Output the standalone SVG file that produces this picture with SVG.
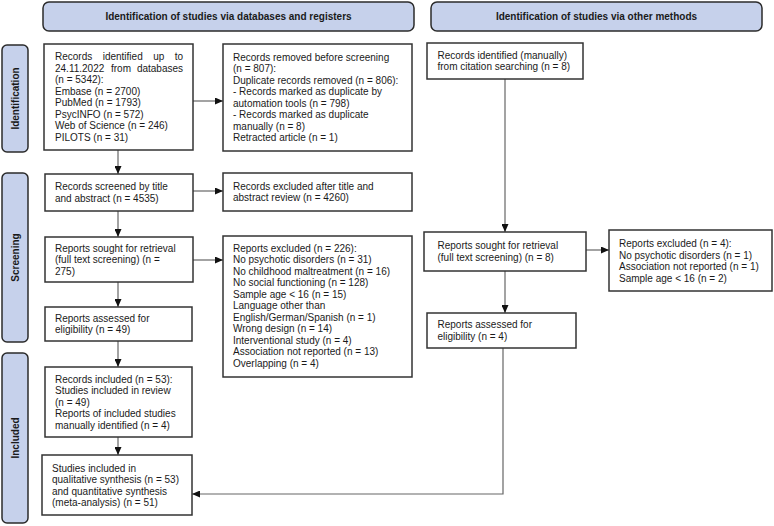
<svg xmlns="http://www.w3.org/2000/svg" width="774" height="526" viewBox="0 0 774 526">
<style>
.hdr{fill:#c6d1eb;stroke:#2b2b2b;stroke-width:1.5}
.box{fill:#ffffff;stroke:#333333;stroke-width:1.5}
.t{font-family:"Liberation Sans",Arial,sans-serif;font-size:10px;fill:#1a1a1a}
.h{font-family:"Liberation Sans",Arial,sans-serif;font-size:10px;font-weight:bold;fill:#1a1a1a;text-anchor:middle}
.c{fill:none;stroke:#666666;stroke-width:1.2}
</style>
<defs>
<marker id="arr" markerUnits="userSpaceOnUse" markerWidth="8" markerHeight="7" refX="8" refY="3.5" orient="auto">
<path d="M0,0 L8,3.5 L0,7 z" fill="#111111"/>
</marker>
</defs>
<rect width="774" height="526" fill="#ffffff"/>

<g id="header-left"><rect class="hdr" x="43" y="2" width="371" height="29" rx="6"/><text class="h" x="228.5" y="20">Identification of studies via databases and registers</text></g>
<g id="header-right"><rect class="hdr" x="431" y="2" width="331" height="29" rx="6"/><text class="h" x="596.5" y="20">Identification of studies via other methods</text></g>

<g id="label-identification"><rect class="hdr" x="2" y="45" width="26" height="107" rx="5"/><text class="h" transform="translate(18.6,98.5) rotate(-90)">Identification</text></g>
<g id="label-screening"><rect class="hdr" x="2" y="173" width="26" height="169" rx="5"/><text class="h" transform="translate(18.6,257.5) rotate(-90)">Screening</text></g>
<g id="label-included"><rect class="hdr" x="2" y="353" width="26" height="170" rx="5"/><text class="h" transform="translate(18.6,438) rotate(-90)">Included</text></g>

<g id="connectors">
<path class="c" d="M193,101 H223" marker-end="url(#arr)"/>
<path class="c" d="M118,150 V174" marker-end="url(#arr)"/>
<path class="c" d="M193,191 H223" marker-end="url(#arr)"/>
<path class="c" d="M118,211 V237" marker-end="url(#arr)"/>
<path class="c" d="M193,260 H223" marker-end="url(#arr)"/>
<path class="c" d="M118,282 V307" marker-end="url(#arr)"/>
<path class="c" d="M118,341 V367" marker-end="url(#arr)"/>
<path class="c" d="M118,437 V455" marker-end="url(#arr)"/>
<path class="c" d="M505,79 V232" marker-end="url(#arr)"/>
<path class="c" d="M586,250 H609" marker-end="url(#arr)"/>
<path class="c" d="M505,271 V313" marker-end="url(#arr)"/>
<path class="c" d="M503,348 V494 H192" marker-end="url(#arr)"/>
</g>

<g id="records-identified">
<rect class="box" x="44" y="44" width="149" height="106"/>
<text class="t"><tspan x="55" y="60">Records</tspan><tspan x="102.7" y="60">identified</tspan><tspan x="153.2" y="60">up</tspan><tspan x="174.8" y="60">to</tspan></text>
<text class="t"><tspan x="55" y="71.5">24.11.2022</tspan><tspan x="111" y="71.5">from</tspan><tspan x="136.9" y="71.5">databases</tspan></text>
<text class="t" x="55"><tspan x="55" y="83">(n = 5342):</tspan><tspan x="55" y="94.5">Embase (n = 2700)</tspan><tspan x="55" y="106">PubMed (n = 1793)</tspan><tspan x="55" y="117.5">PsycINFO (n = 572)</tspan><tspan x="55" y="129">Web of Science (n = 246)</tspan><tspan x="55" y="140.5">PILOTS (n = 31)</tspan></text>
</g>

<g id="records-removed">
<rect class="box" x="223" y="44" width="189" height="107"/>
<text class="t"><tspan x="233" y="60.5">Records removed before screening</tspan><tspan x="233" y="72">(n = 807):</tspan><tspan x="233" y="83.5">Duplicate records removed (n = 806):</tspan><tspan x="233" y="95">- Records marked as duplicate by</tspan><tspan x="233" y="106.5">automation tools (n = 798)</tspan><tspan x="233" y="118">- Records marked as duplicate</tspan><tspan x="233" y="129.5">manually (n = 8)</tspan><tspan x="233" y="141">Retracted article (n = 1)</tspan></text>
</g>

<g id="citation-searching">
<rect class="box" x="427" y="43" width="156" height="36"/>
<text class="t"><tspan x="437.5" y="58.5">Records identified (manually)</tspan><tspan x="437.5" y="70">from citation searching (n = 8)</tspan></text>
</g>

<g id="records-screened">
<rect class="box" x="45" y="174" width="148" height="37"/>
<text class="t"><tspan x="55" y="190">Records screened by title</tspan><tspan x="55" y="201.5">and abstract (n = 4535)</tspan></text>
</g>

<g id="records-excluded">
<rect class="box" x="223" y="173" width="189" height="38"/>
<text class="t"><tspan x="233" y="189.5">Records excluded after title and</tspan><tspan x="233" y="201">abstract review (n = 4260)</tspan></text>
</g>

<g id="reports-sought">
<rect class="box" x="45" y="237" width="148" height="45"/>
<text class="t"><tspan x="55" y="251.5">Reports sought for retrieval</tspan><tspan x="55" y="263">(full text screening) (n =</tspan><tspan x="55" y="274.5">275)</tspan></text>
</g>

<g id="reports-excluded">
<rect class="box" x="223" y="236" width="189" height="141"/>
<text class="t"><tspan x="233" y="251.5">Reports excluded (n = 226):</tspan><tspan x="233" y="263">No psychotic disorders (n = 31)</tspan><tspan x="233" y="274.5">No childhood maltreatment (n = 16)</tspan><tspan x="233" y="286">No social functioning (n = 128)</tspan><tspan x="233" y="297.5">Sample age &lt; 16 (n = 15)</tspan><tspan x="233" y="309">Language other than</tspan><tspan x="233" y="320.5">English/German/Spanish (n = 1)</tspan><tspan x="233" y="332">Wrong design (n = 14)</tspan><tspan x="233" y="343.5">Interventional study (n = 4)</tspan><tspan x="233" y="355">Association not reported (n = 13)</tspan><tspan x="233" y="366.5">Overlapping (n = 4)</tspan></text>
</g>

<g id="reports-assessed">
<rect class="box" x="45" y="307" width="147" height="34"/>
<text class="t"><tspan x="55" y="321.5">Reports assessed for</tspan><tspan x="55" y="333">eligibility (n = 49)</tspan></text>
</g>

<g id="records-included">
<rect class="box" x="45" y="367" width="147" height="70"/>
<text class="t"><tspan x="55" y="382.5">Records included (n = 53):</tspan><tspan x="55" y="394">Studies included in review</tspan><tspan x="55" y="405.5">(n = 49)</tspan><tspan x="55" y="417">Reports of included studies</tspan><tspan x="55" y="428.5">manually identified (n = 4)</tspan></text>
</g>

<g id="studies-included">
<rect class="box" x="42" y="455" width="150" height="60"/>
<text class="t"><tspan x="52" y="471.5">Studies included in</tspan><tspan x="52" y="483">qualitative synthesis (n = 53)</tspan><tspan x="52" y="494.5">and quantitative synthesis</tspan><tspan x="52" y="506">(meta-analysis) (n = 51)</tspan></text>
</g>

<g id="other-reports-sought">
<rect class="box" x="424" y="232" width="162" height="39"/>
<text class="t"><tspan x="437.5" y="249">Reports sought for retrieval</tspan><tspan x="437.5" y="260.5">(full text screening) (n = 8)</tspan></text>
</g>

<g id="other-reports-excluded">
<rect class="box" x="609" y="230" width="163" height="61"/>
<text class="t"><tspan x="619" y="247">Reports excluded (n = 4):</tspan><tspan x="619" y="258.5">No psychotic disorders (n = 1)</tspan><tspan x="619" y="270">Association not reported (n = 1)</tspan><tspan x="619" y="281.5">Sample age &lt; 16 (n = 2)</tspan></text>
</g>

<g id="other-reports-assessed">
<rect class="box" x="427" y="313" width="149" height="35"/>
<text class="t"><tspan x="437.5" y="328">Reports assessed for</tspan><tspan x="437.5" y="339.5">eligibility (n = 4)</tspan></text>
</g>
</svg>
